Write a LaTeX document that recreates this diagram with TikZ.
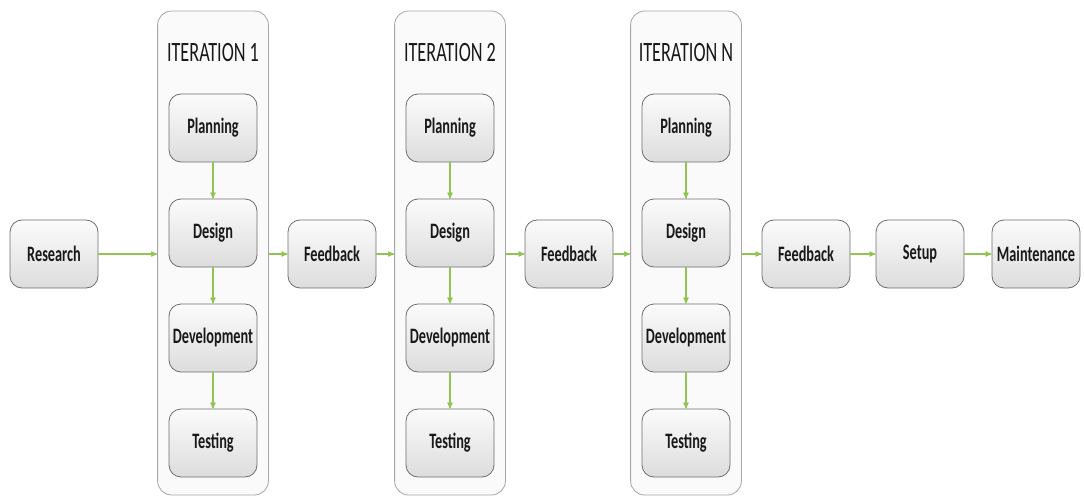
\documentclass[tikz,border=0pt]{standalone}
\usepackage{fontspec}
\setmainfont{Carlito}[FakeStretch=0.65]
\usepackage{tikz}
\usetikzlibrary{arrows,shapes,positioning,fit}
\usetikzlibrary{backgrounds}
\definecolor{flowgreen}{RGB}{146,196,84}
\definecolor{boxline}{RGB}{110,110,110}

\begin{document}
\begin{tikzpicture}[x=1pt,y=-1pt,>=stealth',->,line width=1pt,
        phase/.style={rectangle,rounded corners=12pt,minimum width=88pt,minimum height=68pt,inner sep=1pt,
          draw=boxline,line width=0.8pt,top color=gray!3,bottom color=gray!27,
          font=\fontsize{22}{24}\selectfont\bfseries,text=black!90},
        iter/.style={rectangle,rounded corners=14pt,inner xsep=11pt,inner ysep=0pt,draw=gray!70,line width=0.8pt,fill=gray!4},
        title/.style={font=\fontsize{28}{30}\selectfont,text=black!90},
        flow/.style={color=flowgreen,line width=1.2pt}]

        \useasboundingbox (0,0) rectangle (1084,497);

        \node [phase]             (res)  at (54,254) {Research};

        \node [phase]             (p1)   at (213,128) {Planning};
        \node [phase]             (d1)   [below of=p1,node distance=105pt] {Design};
        \node [phase]             (v1)   [below of=d1,node distance=105pt] {Development};
        \node [phase]             (te1)  [below of=v1,node distance=105pt] {Testing};
        \node [title]             (t1)   [above of=p1,node distance=75pt] {ITERATION 1};
        \coordinate [above of=p1,node distance=117pt] (top1);
        \coordinate [below of=te1,node distance=52pt] (bot1);

        \node [phase]             (fb1)  [right of=res,node distance=278pt] {Feedback};

        \node [phase]             (p2)   [right of=p1,node distance=237pt] {Planning};
        \node [phase]             (d2)   [below of=p2,node distance=105pt] {Design};
        \node [phase]             (v2)   [below of=d2,node distance=105pt] {Development};
        \node [phase]             (te2)  [below of=v2,node distance=105pt] {Testing};
        \node [title]             (t2)   [above of=p2,node distance=75pt] {ITERATION 2};
        \coordinate [above of=p2,node distance=117pt] (top2);
        \coordinate [below of=te2,node distance=52pt] (bot2);

        \node [phase]             (fb2)  [right of=fb1,node distance=237pt] {Feedback};

        \node [phase]             (p3)   [right of=p2,node distance=236pt] {Planning};
        \node [phase]             (d3)   [below of=p3,node distance=105pt] {Design};
        \node [phase]             (v3)   [below of=d3,node distance=105pt] {Development};
        \node [phase]             (te3)  [below of=v3,node distance=105pt] {Testing};
        \node [title]             (t3)   [above of=p3,node distance=75pt] {ITERATION N};
        \coordinate [above of=p3,node distance=117pt] (top3);
        \coordinate [below of=te3,node distance=52pt] (bot3);

        \node [phase]             (fb3)  [right of=fb2,node distance=237pt] {Feedback};
        \node [phase]             (setup) [right of=fb3,node distance=114pt] {Setup};
        \node [phase]             (maint) [right of=setup,node distance=116pt] {Maintenance};

        \begin{pgfonlayer}{background}
          \node [iter,fit=(top1)(bot1)(p1)] (it1) {};
          \node [iter,fit=(top2)(bot2)(p2)] (it2) {};
          \node [iter,fit=(top3)(bot3)(p3)] (it3) {};
        \end{pgfonlayer}

        \path [flow]
          (res) edge (res -| it1.west)
          (res -| it1.east) edge (fb1)
          (fb1) edge (fb1 -| it2.west)
          (fb1 -| it2.east) edge (fb2)
          (fb2) edge (fb2 -| it3.west)
          (fb2 -| it3.east) edge (fb3)
          (fb3) edge (setup)
          (setup) edge (maint)
          (p1) edge (d1)
          (d1) edge (v1)
          (v1) edge (te1)
          (p2) edge (d2)
          (d2) edge (v2)
          (v2) edge (te2)
          (p3) edge (d3)
          (d3) edge (v3)
          (v3) edge (te3)
        ;
      \end{tikzpicture}
\end{document}
